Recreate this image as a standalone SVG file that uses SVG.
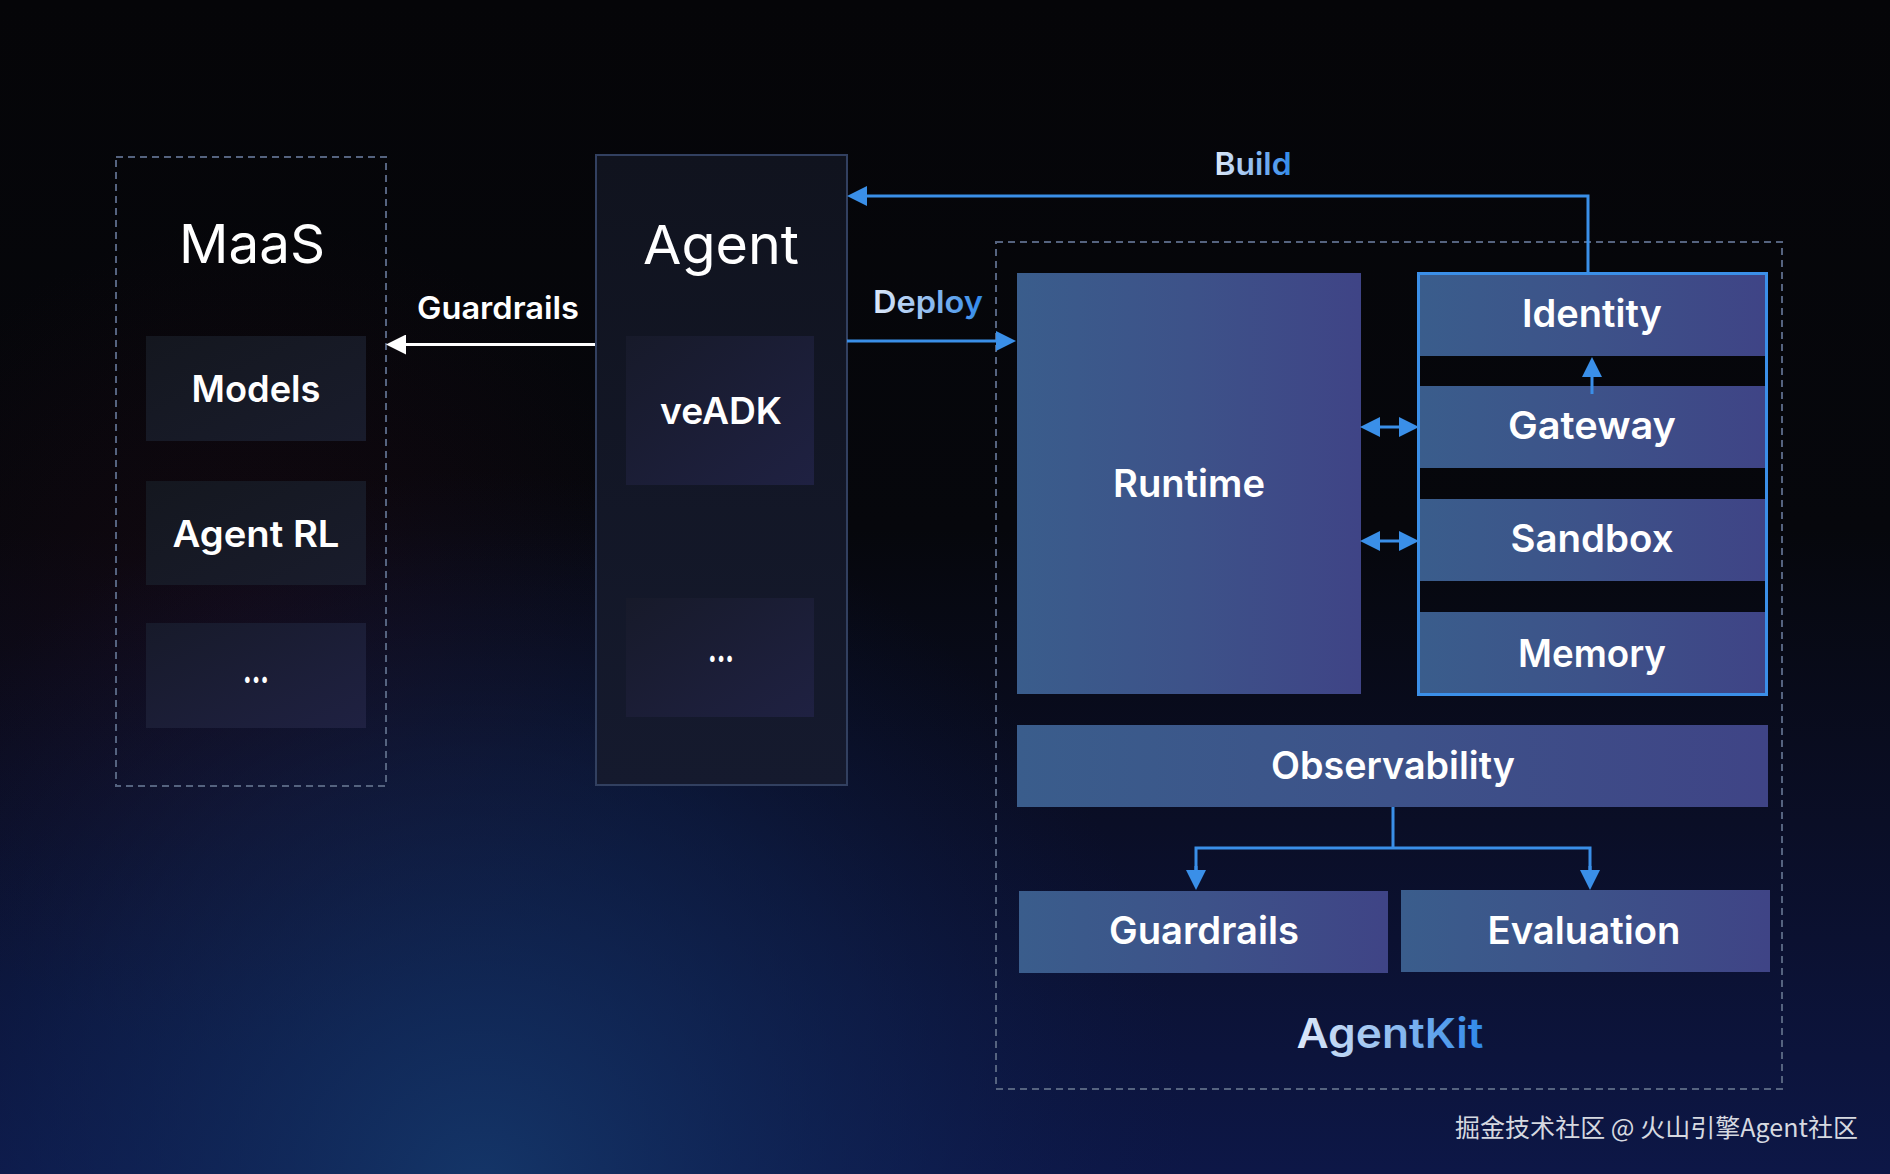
<svg xmlns="http://www.w3.org/2000/svg" width="1890" height="1174" viewBox="0 0 1890 1174">
  <defs>
    <linearGradient id="bgLin" x1="0" y1="0" x2="0" y2="1">
      <stop offset="0" stop-color="#050508"/>
      <stop offset="0.45" stop-color="#06070c"/>
      <stop offset="0.7" stop-color="#0a0e26"/>
      <stop offset="1" stop-color="#0d1747"/>
    </linearGradient>
    <radialGradient id="bgGlow" gradientUnits="userSpaceOnUse" cx="480" cy="1190" r="720">
      <stop offset="0" stop-color="#15396c" stop-opacity="0.9"/>
      <stop offset="0.6" stop-color="#10285a" stop-opacity="0.4"/>
      <stop offset="1" stop-color="#0c1a48" stop-opacity="0"/>
    </radialGradient>
    <radialGradient id="bgRed" gradientUnits="userSpaceOnUse" cx="260" cy="640" r="420">
      <stop offset="0" stop-color="#2a0a18" stop-opacity="0.35"/>
      <stop offset="1" stop-color="#2a0a18" stop-opacity="0"/>
    </radialGradient>
    <linearGradient id="nodeFill" x1="0" y1="0" x2="1" y2="0">
      <stop offset="0" stop-color="#3a5d8c"/>
      <stop offset="0.5" stop-color="#3d5289"/>
      <stop offset="1" stop-color="#3f4486"/>
    </linearGradient>
    <linearGradient id="darkFill" x1="0" y1="0" x2="1" y2="1">
      <stop offset="0" stop-color="#14171f"/>
      <stop offset="1" stop-color="#191c2c"/>
    </linearGradient>
    <linearGradient id="darkFill2" x1="0" y1="0" x2="1" y2="1">
      <stop offset="0" stop-color="#171a2a"/>
      <stop offset="1" stop-color="#1f2142"/>
    </linearGradient>
    <linearGradient id="agentFill" x1="0" y1="0" x2="0" y2="1">
      <stop offset="0" stop-color="#10131e"/>
      <stop offset="1" stop-color="#151a2e"/>
    </linearGradient>
    <linearGradient id="blueText" x1="0" y1="0" x2="1" y2="0">
      <stop offset="0" stop-color="#dfe9f8"/>
      <stop offset="0.45" stop-color="#9cc3f0"/>
      <stop offset="1" stop-color="#2d88ea"/>
    </linearGradient>
    <marker id="arrBlue" viewBox="0 0 20 20" refX="0" refY="10" markerWidth="20" markerHeight="20" markerUnits="userSpaceOnUse" orient="auto-start-reverse">
      <path d="M0,0 L20,10 L0,20 Z" fill="#3a8fe8"/>
    </marker>
    <marker id="arrWhite" viewBox="0 0 20 20" refX="0" refY="10" markerWidth="20" markerHeight="20" markerUnits="userSpaceOnUse" orient="auto-start-reverse">
      <path d="M0,0 L20,10 L0,20 Z" fill="#ffffff"/>
    </marker>
  </defs>
  <style>
    .t { font-family: Inter, "Liberation Sans", sans-serif; fill: #ffffff; text-anchor: middle; }
    .title { font-size: 54px; font-weight: 400; }
    .lbl { font-size: 37px; font-weight: 600; }
    .kit { font-size: 38px; font-weight: 600; }
    .edge { font-size: 31px; font-weight: 600; }
    .dots { font-size: 34px; font-weight: 800; }
    .dash { fill: none; stroke: #55637f; stroke-width: 2; stroke-dasharray: 7 5; }
    .node { fill: url(#nodeFill); }
    .dark { fill: url(#darkFill); }
    .dark2 { fill: url(#darkFill2); }
    .conn { fill: none; stroke: #3a8fe8; stroke-width: 3; }
    .connW { fill: none; stroke: #ffffff; stroke-width: 3; }
  </style>

  <g id="background">
    <rect x="0" y="0" width="1890" height="1174" fill="url(#bgLin)"/>
    <rect x="0" y="0" width="1890" height="1174" fill="url(#bgRed)"/>
    <rect x="0" y="0" width="1890" height="1174" fill="url(#bgGlow)"/>
  </g>

  <g id="maas">
    <rect class="dash" x="116" y="157" width="270" height="629"/>
    <text class="t title" x="252" y="263" textLength="146" lengthAdjust="spacingAndGlyphs">MaaS</text>
    <g id="models">
      <rect class="dark" x="146" y="336" width="220" height="105"/>
      <text class="t lbl" x="256" y="402" textLength="129" lengthAdjust="spacingAndGlyphs">Models</text>
    </g>
    <g id="agent-rl">
      <rect class="dark" x="146" y="481" width="220" height="104"/>
      <text class="t lbl" x="256" y="547" textLength="167" lengthAdjust="spacingAndGlyphs">Agent RL</text>
    </g>
    <g id="maas-more">
      <rect class="dark2" x="146" y="623" width="220" height="105"/>
      <text class="t dots" x="256" y="683" textLength="26" lengthAdjust="spacingAndGlyphs">...</text>
    </g>
  </g>

  <g id="agent">
    <rect x="596" y="155" width="251" height="630" fill="url(#agentFill)" stroke="#324060" stroke-width="2"/>
    <text class="t title" x="721" y="264" textLength="156" lengthAdjust="spacingAndGlyphs">Agent</text>
    <g id="veadk">
      <rect class="dark2" x="626" y="336" width="188" height="149"/>
      <text class="t lbl" x="721" y="424" textLength="122" lengthAdjust="spacingAndGlyphs">veADK</text>
    </g>
    <g id="agent-more">
      <rect class="dark2" x="626" y="598" width="188" height="119"/>
      <text class="t dots" x="721" y="662" textLength="26" lengthAdjust="spacingAndGlyphs">...</text>
    </g>
  </g>

  <g id="agentkit">
    <rect class="dash" x="996" y="242" width="786" height="847"/>
    <g id="runtime">
      <rect class="node" x="1017" y="273" width="344" height="421"/>
      <text class="t kit" x="1189" y="497" textLength="152" lengthAdjust="spacingAndGlyphs">Runtime</text>
    </g>
    <g id="services">
      <g id="identity">
        <rect class="node" x="1419" y="274" width="347" height="82"/>
        <text class="t kit" x="1592" y="327" textLength="140" lengthAdjust="spacingAndGlyphs">Identity</text>
      </g>
      <g id="gateway">
        <rect class="node" x="1419" y="386" width="347" height="82"/>
        <text class="t kit" x="1592" y="439" textLength="168" lengthAdjust="spacingAndGlyphs">Gateway</text>
      </g>
      <g id="sandbox">
        <rect class="node" x="1419" y="499" width="347" height="82"/>
        <text class="t kit" x="1592" y="552" textLength="163" lengthAdjust="spacingAndGlyphs">Sandbox</text>
      </g>
      <g id="memory">
        <rect class="node" x="1419" y="612" width="347" height="82"/>
        <text class="t kit" x="1592" y="667" textLength="148" lengthAdjust="spacingAndGlyphs">Memory</text>
      </g>
      <rect x="1418.5" y="273.5" width="348" height="421" fill="none" stroke="#3b8fe8" stroke-width="3"/>
    </g>
    <g id="observability">
      <rect class="node" x="1017" y="725" width="751" height="82"/>
      <text class="t kit" x="1393" y="779" textLength="244" lengthAdjust="spacingAndGlyphs">Observability</text>
    </g>
    <g id="guardrails">
      <rect class="node" x="1019" y="891" width="369" height="82"/>
      <text class="t kit" x="1204" y="944" textLength="190" lengthAdjust="spacingAndGlyphs">Guardrails</text>
    </g>
    <g id="evaluation">
      <rect class="node" x="1401" y="890" width="369" height="82"/>
      <text class="t kit" x="1584" y="944" textLength="193" lengthAdjust="spacingAndGlyphs">Evaluation</text>
    </g>
    <text class="t" x="1390" y="1048" font-size="41" font-weight="600" style="fill:url(#blueText)" textLength="187" lengthAdjust="spacingAndGlyphs">AgentKit</text>
  </g>

  <g id="connectors">
    <path class="connW" d="M595,344.5 H406" marker-end="url(#arrWhite)"/>
    <text class="t edge" x="498" y="319" textLength="162" lengthAdjust="spacingAndGlyphs">Guardrails</text>

    <path class="conn" d="M847,341 H996" marker-end="url(#arrBlue)"/>
    <text class="t edge" x="928" y="313" textLength="110" lengthAdjust="spacingAndGlyphs" style="fill:url(#blueText)">Deploy</text>

    <path class="conn" d="M1588,274 V196 H867" marker-end="url(#arrBlue)"/>
    <text class="t edge" x="1253" y="175" textLength="77" lengthAdjust="spacingAndGlyphs" style="fill:url(#blueText)">Build</text>

    <path class="conn" d="M1380,427 H1399" marker-start="url(#arrBlue)" marker-end="url(#arrBlue)"/>
    <path class="conn" d="M1380,541 H1399" marker-start="url(#arrBlue)" marker-end="url(#arrBlue)"/>

    <path class="conn" d="M1592,394 V377" marker-end="url(#arrBlue)"/>

    <path class="conn" d="M1393,807 V848 M1196,848 H1590.5 M1196,846.5 V870 M1590,846.5 V870"/>
    <path class="conn" d="M1196,866 V870" marker-end="url(#arrBlue)"/>
    <path class="conn" d="M1590,866 V870" marker-end="url(#arrBlue)"/>
  </g>

  <text x="1455" y="1137" font-family="'Noto Sans CJK SC', 'Noto Sans', sans-serif" font-size="25" fill="#d6d9e0" textLength="403">掘金技术社区 @ 火山引擎Agent社区</text>
</svg>
